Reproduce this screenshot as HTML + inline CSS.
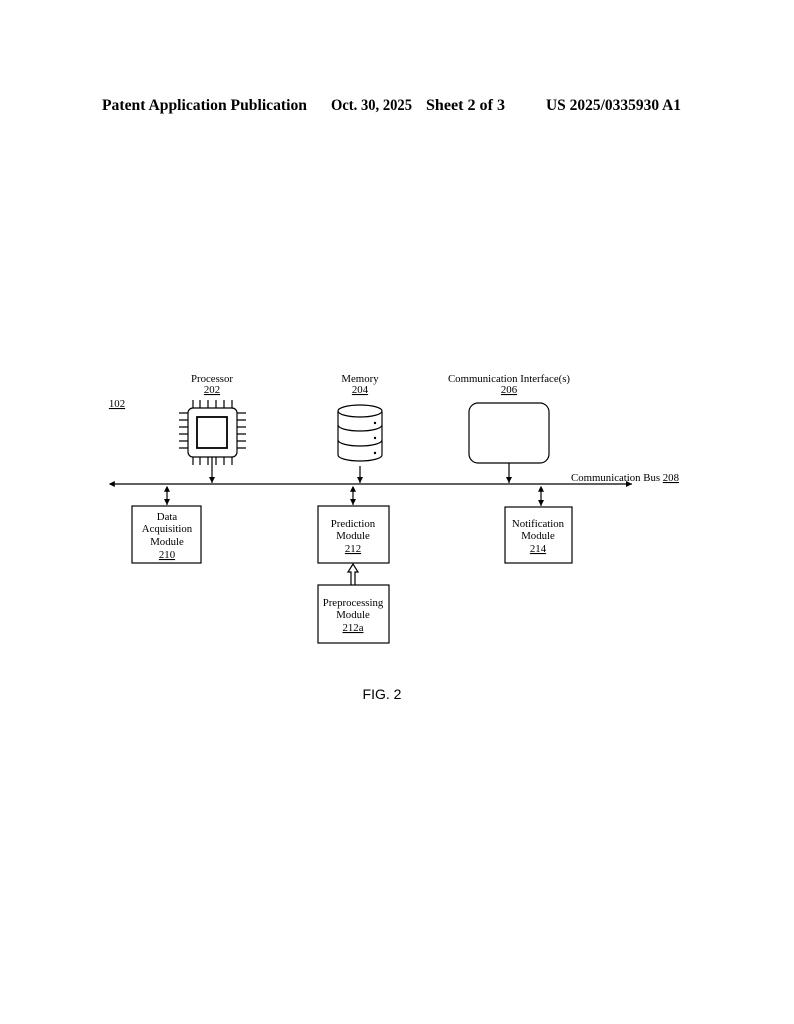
<!DOCTYPE html>
<html><head><meta charset="utf-8"><style>
body{margin:0;background:#fff}
svg{display:block}
text{font-family:"Liberation Serif",serif;fill:#000}
</style></head><body>
<svg width="794" height="1024" viewBox="0 0 794 1024" xmlns="http://www.w3.org/2000/svg">
<defs>
<marker id="a" markerWidth="6" markerHeight="6" refX="5" refY="3" orient="auto"><path d="M0,0.5 L5,3 L0,5.5 z" fill="#000"/></marker>
<marker id="b" markerWidth="6" markerHeight="6" refX="1" refY="3" orient="auto"><path d="M5,0.5 L0,3 L5,5.5 z" fill="#000"/></marker>
</defs>
<g font-weight="bold" font-size="15.5">
<text x="102" y="110" textLength="205" lengthAdjust="spacingAndGlyphs">Patent Application Publication</text>
<text x="331" y="110" textLength="81" lengthAdjust="spacingAndGlyphs">Oct. 30, 2025</text>
<text x="426" y="110" textLength="79" lengthAdjust="spacingAndGlyphs">Sheet 2 of 3</text>
<text x="546" y="110" textLength="135" lengthAdjust="spacingAndGlyphs">US 2025/0335930 A1</text>
</g>
<g font-size="10.8" text-anchor="middle">
<text x="212" y="382">Processor</text>
<text x="212" y="393" text-decoration="underline">202</text>
<text x="360" y="382">Memory</text>
<text x="360" y="393" text-decoration="underline">204</text>
<text x="509" y="382">Communication Interface(s)</text>
<text x="509" y="393" text-decoration="underline">206</text>
<text x="117" y="407" text-decoration="underline">102</text>
</g>
<text x="571" y="481" font-size="10.8">Communication Bus <tspan text-decoration="underline">208</tspan></text>
<g stroke="#000" fill="none" stroke-width="1.2">
<rect x="188" y="408" width="49" height="49" rx="5"/>
<rect x="197" y="417" width="30" height="31" stroke-width="1.8"/>
<path d="M193,400v8M200,400v8M208,400v8M216,400v8M224,400v8M232,400v8M193,457v8M200,457v8M208,457v8M216,457v8M224,457v8M232,457v8M179,413h9M179,420h9M179,427h9M179,434h9M179,441h9M179,448h9M237,413h9M237,420h9M237,427h9M237,434h9M237,441h9M237,448h9"/>
<path d="M338,411 v44 a22,6 0 0 0 44,0 v-44"/>
<ellipse cx="360" cy="411" rx="22" ry="6"/>
<path d="M338,425 a22,6 0 0 0 44,0 M338,440 a22,6 0 0 0 44,0"/>
<rect x="469" y="403" width="80" height="60" rx="9"/>
<rect x="132" y="506" width="69" height="57"/>
<rect x="318" y="506" width="71" height="57"/>
<rect x="318" y="585" width="71" height="58"/>
<rect x="505" y="507" width="67" height="56"/>
<line x1="110" y1="484" x2="632" y2="484" marker-start="url(#b)" marker-end="url(#a)"/>
<line x1="212" y1="457" x2="212" y2="483" marker-end="url(#a)"/>
<line x1="360" y1="466" x2="360" y2="483" marker-end="url(#a)"/>
<line x1="509" y1="463" x2="509" y2="483" marker-end="url(#a)"/>
<line x1="167" y1="487" x2="167" y2="505" marker-start="url(#b)" marker-end="url(#a)"/>
<line x1="353" y1="487" x2="353" y2="505" marker-start="url(#b)" marker-end="url(#a)"/>
<line x1="541" y1="487" x2="541" y2="506" marker-start="url(#b)" marker-end="url(#a)"/>
<path d="M351,585 v-13 h-3 l5,-8 l5,8 h-3 v13"/>
</g>
<g fill="#000"><circle cx="375" cy="423" r="1.2"/><circle cx="375" cy="438" r="1.2"/><circle cx="375" cy="453" r="1.2"/></g>
<g font-size="10.8" text-anchor="middle">
<text x="167" y="520">Data</text><text x="167" y="532">Acquisition</text><text x="167" y="545">Module</text><text x="167" y="558" text-decoration="underline">210</text>
<text x="353" y="527">Prediction</text><text x="353" y="539">Module</text><text x="353" y="552" text-decoration="underline">212</text>
<text x="353" y="606">Preprocessing</text><text x="353" y="618">Module</text><text x="353" y="631" text-decoration="underline">212a</text>
<text x="538" y="527">Notification</text><text x="538" y="539">Module</text><text x="538" y="552" text-decoration="underline">214</text>
</g>
<text x="382" y="699" font-size="14" text-anchor="middle" style="font-family:'Liberation Sans',sans-serif">FIG. 2</text>
</svg>
</body></html>
